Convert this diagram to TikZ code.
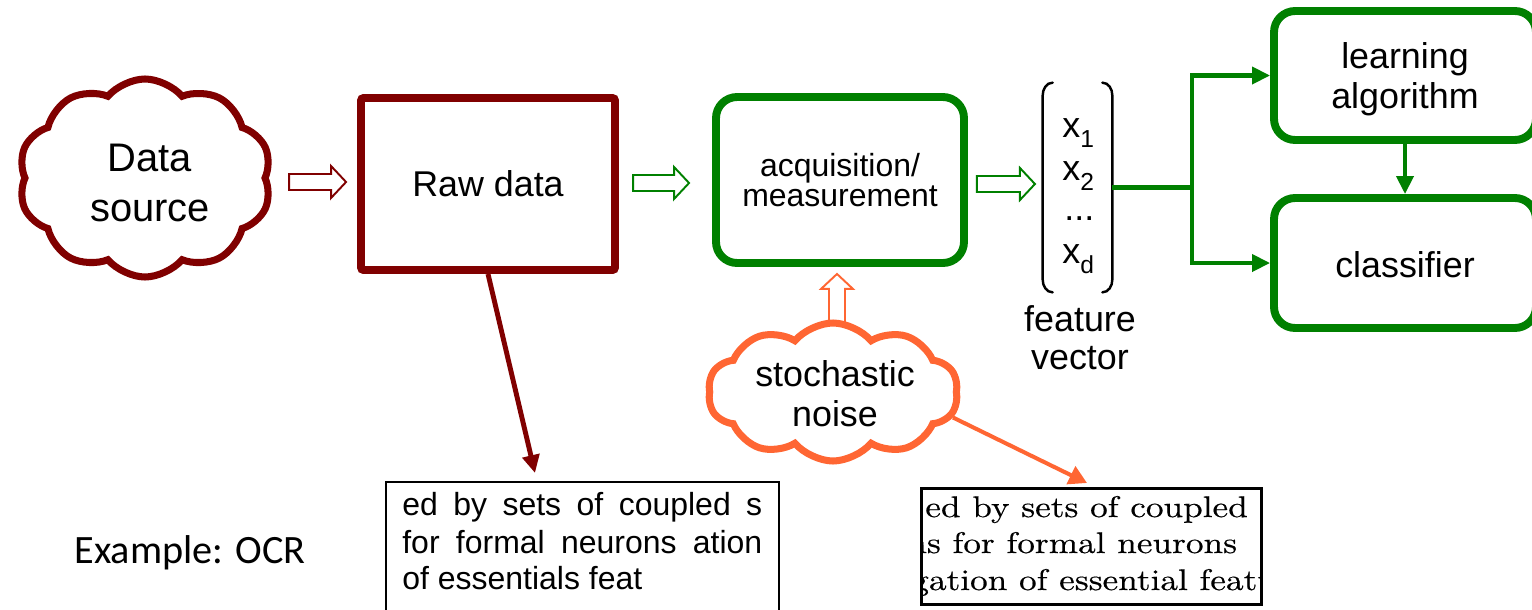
\documentclass[tikz,border=0pt]{standalone}
\usepackage{fontspec}
\newfontfamily\arial{Liberation Sans}
\newfontfamily\calib{Carlito}
\newfontfamily\scanfont{lmroman10-regular.otf}[FakeStretch=1.18,FakeBold=0.4]
\usetikzlibrary{shapes.symbols,arrows.meta,calc}
\definecolor{rawred}{RGB}{128,0,0}
\definecolor{procgreen}{RGB}{0,128,0}
\definecolor{noiseorange}{RGB}{255,102,51}
\def\pu{0.02cm}
\newcommand\vsub[1]{\raisebox{-6pt}[0pt][0pt]{\fontsize{14pt}{14pt}\selectfont #1}}
\tikzset{
  every node/.style={font=\arial, inner sep=0pt},
  big/.style={font=\arial\fontsize{20.4pt}{22.7pt}\selectfont},
  cloudnode/.style={cloud, cloud puffs=10, cloud puff arc=100, cloud ignores aspect,
    line width=4pt},
  rawbox/.style={draw=rawred, line width=4.5pt, rounded corners=1.5pt, align=center},
  procbox/.style={draw=procgreen, line width=4.5pt, rounded corners=12pt, align=center},
  feed/.style={draw=procgreen, line width=2.3pt, -{Triangle[length=10.2pt,width=9.6pt]}},
  rawfeed/.style={draw=rawred, line width=2.8pt, -{Triangle[length=10.2pt,width=9.6pt]}},
  noisefeed/.style={draw=noiseorange, line width=2.3pt, -{Triangle[length=10.2pt,width=11pt]}},
  bracketline/.style={line width=1.4pt, line cap=round},
  comp/.style={anchor=base west, font=\arial\fontsize{20.4pt}{22.7pt}\selectfont},
  hollowarrow/.pic={
    \draw[pic actions, line width=1.1pt, line join=miter]
      (-#1/2,-8) -- (#1/2-15,-8) -- (#1/2-15,-16) -- (#1/2,0)
      -- (#1/2-15,16) -- (#1/2-15,8) -- (-#1/2,8) -- cycle;
  },
  sample/.style={anchor=base west, font=\arial\fontsize{18.2pt}{21pt}\selectfont},
  scan/.style={anchor=base west, font=\scanfont\fontsize{17pt}{21pt}\selectfont},
}
\begin{document}
\begin{tikzpicture}[x=\pu, y=-\pu]
\useasboundingbox (0,0) rectangle (1532,609);

% pipeline
\node[cloudnode, draw=rawred, minimum width=253*\pu, minimum height=198*\pu] (src) at (145,178) {};
\node[align=center, font=\arial\fontsize{22.7pt}{28.3pt}\selectfont] (srctxt)
  at ($(src.center)+(5,5)$) {Data\\source};
\node[rawbox, big, minimum width=254*\pu, minimum height=172*\pu] (raw) at (488,184) {Raw data};
\node[procbox, minimum width=248*\pu, minimum height=166*\pu,
      font=\arial\fontsize{18.2pt}{17pt}\selectfont] (acq) at (840,180) {acquisition/\\measurement};

% feature vector in brackets
\node[minimum width=69*\pu, minimum height=209*\pu] (vec) at (1077.5,187.5) {};
\node[comp] (c1) at (1062,137) {x\vsub{1}};
\node[comp] (c2) at (1062,180) {x\vsub{2}};
\node[comp] (c3) at (1064,220) {...};
\node[comp] (c4) at (1062,263) {x\vsub{d}};
\draw[bracketline] ($(vec.north west)+(10,0)$) to[out=180,in=90] ($(vec.north west)+(0,13)$)
  -- ($(vec.south west)+(0,-13)$) to[out=-90,in=180] ($(vec.south west)+(10,0)$);
\draw[bracketline] ($(vec.north east)+(-10,0)$) to[out=0,in=90] ($(vec.north east)+(0,13)$)
  -- ($(vec.south east)+(0,-13)$) to[out=-90,in=0] ($(vec.south east)+(-10,0)$);
\node[big, align=center, font=\arial\fontsize{20.4pt}{21.5pt}\selectfont] (fv) at (1080,338) {feature\\vector};

% learning and classification
\node[procbox, minimum width=262*\pu, minimum height=129*\pu] (learn) at (1405,75.5) {};
\node[align=center, font=\arial\fontsize{20.4pt}{22.7pt}\selectfont] (learntxt)
  at ($(learn.center)+(0,4)$) {learning\\algorithm};
\node[procbox, minimum width=262*\pu, minimum height=130*\pu] (cls) at (1405,263) {};
\node[big] (clstxt) at ($(cls.center)+(0,2)$) {classifier};

\coordinate (br) at ($(vec.east)+(80,0)$);
\draw[procgreen, line width=2.3pt] (vec.east) -- (br);
\draw[feed] (br) |- (learn.west);
\draw[feed] (br) |- (cls.west);
\draw[feed] (learn.south) -- (cls.north);

% block arrows between stages
\pic[draw=rawred] at ($(raw.west)+(-39.5,-2)$) {hollowarrow=57};
\pic[draw=procgreen] at ($(acq.west)+(-51,3)$) {hollowarrow=56};
\pic[draw=procgreen] at ($(acq.east)+(38,4)$) {hollowarrow=58};

% noise
\node[cloudnode, draw=noiseorange, minimum width=250*\pu, minimum height=138*\pu] (noise) at (833,392) {};
\node[align=center, font=\arial\fontsize{20.4pt}{22.7pt}\selectfont] (noisetxt)
  at ($(noise.center)+(2,2)$) {stochastic\\noise};
\pic[draw=noiseorange, rotate=90] at ($(acq.south)+(-3,32)$) {hollowarrow=50};

% OCR example
\node[font=\calib\fontsize{22.9pt}{27pt}\selectfont] (ex) at (190,553) {Example: OCR};

\node[draw, line width=1.1pt, minimum width=393*\pu, minimum height=170*\pu, anchor=north]
  (ocr1) at (582.5,481) {};
\node[sample] (s1) at (402,515) {\makebox[7.2cm][s]{ed by sets of coupled s}};
\node[sample] (s2) at (402,553) {\makebox[7.2cm][s]{for formal neurons ation}};
\node[sample] (s3) at (402,589) {of essentials feat};

\node[draw, line width=1.7pt, minimum width=340*\pu, minimum height=116*\pu] (ocr2) at (1091,546) {};
\begin{scope}
  \clip ($(ocr2.north west)+(1,1)$) rectangle ($(ocr2.south east)+(-1,-1)$);
  \node[scan] (n1) at (925,517) {ed by sets of coupled};
  \node[scan] (n2) at (907,553) {ns for formal neurons};
  \node[scan] (n3) at (911,590) {gation of essential features};
\end{scope}

\coordinate (t1) at (535,473);
\coordinate (t2) at (1087,483);
\draw[rawfeed] (raw.south) -- (t1);
\draw[noisefeed] (noise.-12) -- (t2);
\end{tikzpicture}
\end{document}
